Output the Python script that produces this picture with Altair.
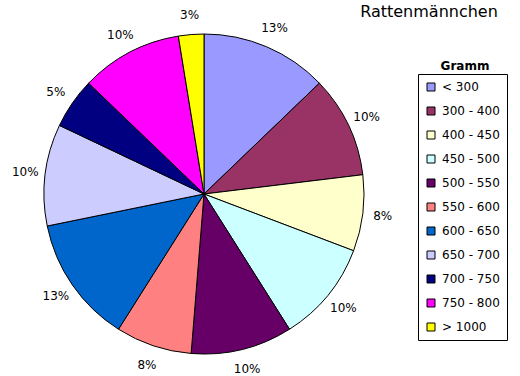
import altair as alt
import pandas as pd

categories = ["< 300", "300 - 400", "400 - 450", "450 - 500", "500 - 550",
              "550 - 600", "600 - 650", "650 - 700", "700 - 750", "750 - 800", "> 1000"]
counts = [5, 4, 3, 4, 4, 3, 5, 4, 2, 4, 1]
colors = ["#9999FF", "#993366", "#FFFFCC", "#CCFFFF", "#660066",
          "#FF8080", "#0066CC", "#CCCCFF", "#000080", "#FF00FF", "#FFFF00"]
title_text = "Rattenmännchen"
legend_title = "Gramm"

df = pd.DataFrame({"cat": categories, "count": counts, "order": list(range(len(categories)))})

FONT = "DejaVu Sans"
CX, CY = 204, 194

base = alt.Chart(df).encode(
    theta=alt.Theta("count:Q", stack=True),
    order=alt.Order("order:Q"),
)

arcs = base.mark_arc(outerRadius=160, stroke="black", strokeWidth=1, x=CX, y=CY).encode(
    color=alt.Color("cat:N", scale=alt.Scale(domain=categories, range=colors), sort=categories,
                    legend=alt.Legend(title=None, orient="none", legendX=418, legendY=74,
                                      strokeColor="black", fillColor="white", padding=7,
                                      symbolType="square", symbolSize=64, symbolStrokeColor="black",
                                      symbolStrokeWidth=1, symbolOpacity=1,
                                      labelFont=FONT, labelFontSize=12, labelColor="black",
                                      labelOffset=5, rowPadding=12, labelLimit=200))
)

labels = base.transform_joinaggregate(total="sum(count)").transform_calculate(
    pct="datum.count / datum.total"
).mark_text(radius=180, x=CX, y=CY, font=FONT, fontSize=12, color="black",
            align="center", baseline="middle").encode(
    text=alt.Text("pct:Q", format=".0%")
)

title = alt.Chart(pd.DataFrame({"t": [title_text]})).mark_text(
    font=FONT, fontSize=16, color="black", align="center", baseline="middle"
).encode(text="t:N", x=alt.value(429), y=alt.value(12))

leg_title = alt.Chart(pd.DataFrame({"t": [legend_title]})).mark_text(
    font=FONT, fontSize=12, fontWeight="bold", color="black", align="center", baseline="middle"
).encode(text="t:N", x=alt.value(465), y=alt.value(66))

chart = alt.layer(arcs, labels, title, leg_title).properties(
    width=520, height=376, autosize=alt.AutoSizeParams(type="none"), padding=0
).configure(background="white", view=alt.ViewConfig(strokeWidth=0))

chart.save("out.html", embed_options={"renderer": "svg", "actions": False})
